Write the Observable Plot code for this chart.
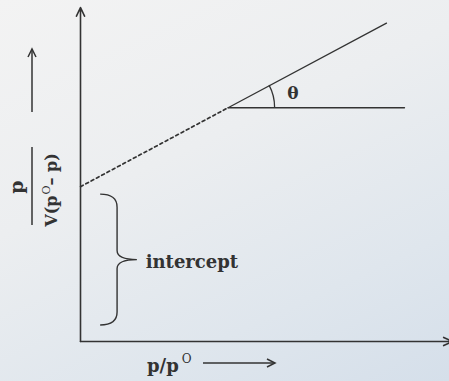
<!DOCTYPE html>
<html>
<head>
<meta charset="utf-8">
<script src="https://cdn.jsdelivr.net/npm/d3@7"></script>
<script src="https://cdn.jsdelivr.net/npm/@observablehq/plot@0.6"></script>
<style>
  html, body { margin: 0; padding: 0; }
  body {
    width: 449px; height: 381px; overflow: hidden;
    background: linear-gradient(155deg, #f3f3f3 0%, #eceef0 40%, #dfe6ed 75%, #d5dfea 100%);
  }
  svg { display: block; }
</style>
</head>
<body>
<div id="chart"></div>
<script>
// BET isotherm plot: p / V(p° − p) against p/p°
const intercept = 0.465;                 // where the extrapolated line meets the y axis
const breakPoint = { x: 0.41, y: 0.702 }; // start of the measured (solid) section
const endPoint = { x: 0.85, y: 0.956 };
const baseEndX = 0.9;                    // end of the horizontal reference for θ
const braceLow = 0.048, braceHigh = 0.441;
const braceXs = [0.056, 0.103, 0.158];   // brace ends, stem, tip
const thetaLabel = { x: 0.59, y: 0.745, text: "θ" };
const interceptLabel = { x: 0.181, y: 0.237, text: "intercept" };
const axisTop = 1.003, axisRight = 1.033;

const dashedLine = [{ x: 0, y: intercept }, breakPoint];
const solidLine = [breakPoint, endPoint];
const baseLine = [breakPoint, { x: baseEndX, y: breakPoint.y }];
const axes = [
  { x1: 0, y1: 0, x2: 0, y2: axisTop },
  { x1: 0, y1: 0, x2: axisRight, y2: 0 }
];

const ink = "#333333";
const serif = "'DejaVu Serif', 'Liberation Serif', serif";

// curly brace marking the intercept on the y axis
function braceMark(index, { x, y }) {
  const [xe, xs, xt] = braceXs.map(x);
  const yt = y(braceHigh), yb = y(braceLow), ym = (yt + yb) / 2;
  const r = 13, r2 = 9;
  const d = `M${xe},${yt} Q${xs},${yt} ${xs},${yt + r} L${xs},${ym - r2} Q${xs},${ym} ${xt},${ym}` +
            ` Q${xs},${ym} ${xs},${ym + r2} L${xs},${yb - r} Q${xs},${yb} ${xe},${yb}`;
  return d3.create("svg:path").attr("d", d).attr("fill", "none")
    .attr("stroke", ink).attr("stroke-width", 1.4).node();
}

// angle arc between the horizontal and the line
function angleArc(index, { x, y }) {
  const cx = x(breakPoint.x), cy = y(breakPoint.y);
  const a = Math.atan2(cy - y(endPoint.y), x(endPoint.x) - cx);
  const r = 47;
  const d = `M${cx + r},${cy} A${r},${r} 0 0 0 ${cx + r * Math.cos(a)},${cy - r * Math.sin(a)}`;
  return d3.create("svg:path").attr("d", d).attr("fill", "none")
    .attr("stroke", ink).attr("stroke-width", 1.3).node();
}

// rotated y-axis title: fraction with an arrow
function yTitle() {
  const g = d3.create("svg:g").attr("transform", "translate(32,187) rotate(-90)")
    .attr("font-family", serif).attr("font-weight", "bold").attr("fill", ink);
  g.append("text").attr("x", 0).attr("y", -9).attr("text-anchor", "middle")
    .attr("font-size", 19).text("p");
  g.append("line").attr("x1", -38).attr("x2", 40).attr("y1", 0).attr("y2", 0)
    .attr("stroke", ink).attr("stroke-width", 1.5);
  const den = g.append("text").attr("x", -3).attr("y", 25).attr("text-anchor", "middle")
    .attr("font-size", 16);
  den.append("tspan").text("V(p");
  den.append("tspan").attr("dy", -7).attr("dx", 1).attr("font-size", 11).attr("font-weight", "normal").text("O");
  den.append("tspan").attr("dy", 7).text("– p)");
  // arrow
  g.append("line").attr("x1", 75).attr("x2", 138).attr("y1", 0).attr("y2", 0)
    .attr("stroke", ink).attr("stroke-width", 1.5);
  g.append("path").attr("d", "M130,-4 L138,0 L130,4").attr("fill", "none")
    .attr("stroke", ink).attr("stroke-width", 1.5);
  return g.node();
}

// x-axis title with an arrow
function xTitle() {
  const g = d3.create("svg:g").attr("font-family", serif).attr("font-weight", "bold")
    .attr("fill", ink).attr("text-anchor", "start");
  const t = g.append("text").attr("x", 147).attr("y", 372).attr("font-size", 18);
  t.append("tspan").text("p/p");
  t.append("tspan").attr("dy", -9).attr("dx", 3).attr("font-size", 12).attr("font-weight", "normal").text("O");
  g.append("line").attr("x1", 203).attr("x2", 275).attr("y1", 363).attr("y2", 363)
    .attr("stroke", ink).attr("stroke-width", 1.5);
  g.append("path").attr("d", "M267,359 L275,363 L267,367").attr("fill", "none")
    .attr("stroke", ink).attr("stroke-width", 1.5);
  return g.node();
}

const chart = Plot.plot({
  width: 449,
  height: 381,
  margin: 0,
  style: { background: "transparent", overflow: "visible" },
  x: { domain: [0, 1], range: [80, 440], axis: null },
  y: { domain: [0, 1], range: [341, 8], axis: null },
  marks: [
    Plot.arrow(axes, { x1: "x1", y1: "y1", x2: "x2", y2: "y2", stroke: ink, strokeWidth: 1.6, headLength: 9, headAngle: 50 }),
    Plot.line(dashedLine, { x: "x", y: "y", stroke: ink, strokeWidth: 1.7, strokeDasharray: "3,3" }),
    Plot.line(solidLine, { x: "x", y: "y", stroke: ink, strokeWidth: 1.3 }),
    Plot.line(baseLine, { x: "x", y: "y", stroke: ink, strokeWidth: 1.3 }),
    angleArc,
    braceMark,
    Plot.text([thetaLabel], { x: "x", y: "y", text: "text", fontSize: 17, fontWeight: "bold", fill: ink, fontFamily: serif }),
    Plot.text([interceptLabel], { x: "x", y: "y", text: "text", textAnchor: "start", fontSize: 18, fontWeight: "bold", fill: ink, fontFamily: serif }),
    yTitle,
    xTitle
  ]
});
document.getElementById("chart").append(chart);
</script>
</body>
</html>
